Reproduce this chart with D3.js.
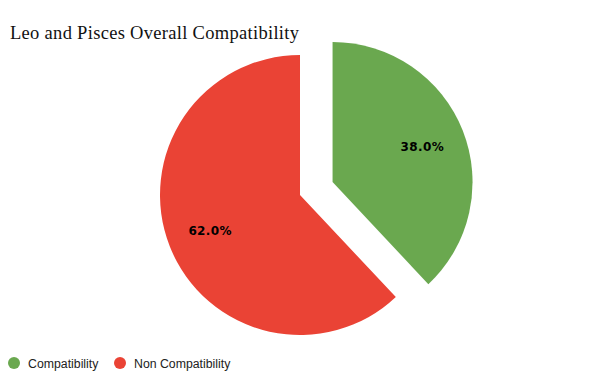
<!DOCTYPE html>
<html><head><meta charset="utf-8">
<script src="https://cdn.jsdelivr.net/npm/d3@7"></script>
<style>body{margin:0;background:#fff}</style>
</head><body>
<script>
const categories = ["Compatibility", "Non Compatibility"];
const values = [38.0, 62.0];
const colors = ["#6aa84f", "#ea4335"];
const title = "Leo and Pisces Overall Compatibility";

const W = 600, H = 379;
const svg = d3.select("body").append("svg").attr("width", W).attr("height", H);
svg.append("rect").attr("width", W).attr("height", H).attr("fill", "#fff");

svg.append("text").attr("x", 10).attr("y", 39)
  .attr("font-family", "Liberation Serif, serif").attr("font-size", 18.5)
  .attr("letter-spacing", 0.3)
  .attr("fill", "#111").text(title);

const cx = 300, cy = 195, r = 140, explode = 35;
const data = categories.map((c, i) => ({c, v: values[i], col: colors[i]}));
const pie = d3.pie().value(d => d.v).sort(null);
const arc = d3.arc().innerRadius(0).outerRadius(r);
const arcs = pie(data);
const g = svg.append("g").attr("transform", `translate(${cx},${cy})`);
arcs.forEach((a, i) => {
  const mid = (a.startAngle + a.endAngle) / 2;
  const off = i === 0 ? explode : 0;
  const dx = Math.sin(mid) * off, dy = -Math.cos(mid) * off;
  const sg = g.append("g").attr("transform", `translate(${dx},${dy})`);
  sg.append("path").attr("d", arc(a)).attr("fill", a.data.col);
  const lr = r * 0.69;
  sg.append("text").attr("x", Math.sin(mid) * lr).attr("y", -Math.cos(mid) * lr)
    .attr("text-anchor", "middle").attr("dominant-baseline", "central")
    .attr("font-family", "DejaVu Sans, sans-serif").attr("font-weight", "bold")
    .attr("font-size", 12).attr("letter-spacing", 0.4).attr("fill", "#000")
    .text(a.data.v.toFixed(1) + "%");
});

const legend = svg.append("g");
const lx = [14, 120];
data.forEach((d, i) => {
  legend.append("circle").attr("cx", lx[i]).attr("cy", 363).attr("r", 6).attr("fill", d.col);
  legend.append("text").attr("x", lx[i] + 14).attr("y", 367.5)
    .attr("font-family", "Liberation Sans, Arial, sans-serif").attr("font-size", 12.3)
    .attr("fill", "#222").text(d.c);
});
</script>
</body></html>
